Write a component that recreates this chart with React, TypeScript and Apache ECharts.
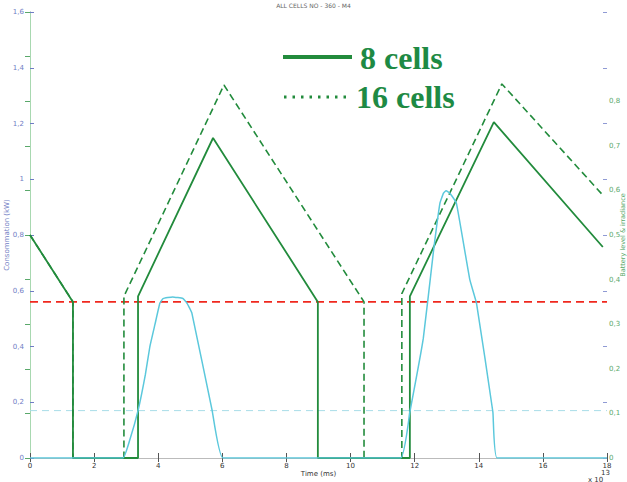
import React, { useEffect, useRef } from "react";
import * as echarts from "echarts";

const xTicks = [0, 2, 4, 6, 8, 10, 12, 14, 16, 18];

const x8 = [0, 1.34, 1.34, 3.37, 3.37, 5.71, 8.98, 8.98, 11.85, 11.85, 14.47, 17.87];
const y8 = [0.8, 0.56, 0, 0, 0.58, 1.148, 0.56, 0, 0, 0.58, 1.205, 0.757];

const x16 = [0, 1.34, 1.34, 2.93, 2.93, 6.05, 10.42, 10.42, 11.6, 11.6, 14.72, 17.87];
const y16 = [0.8, 0.56, 0, 0, 0.58, 1.338, 0.56, 0, 0, 0.59, 1.342, 0.943];

const xIr = [0, 2.9, 3.1, 3.37, 3.6, 3.74, 3.9, 4.05, 4.15, 4.45, 4.77, 4.9, 5.05, 5.68, 6.02, 11.56, 11.85, 12.27, 12.58, 12.79, 12.9, 12.98, 13.1, 13.3, 13.72, 13.93, 14.44, 14.57, 18];
const yIr = [0, 0, 0.06, 0.17, 0.3, 0.4, 0.48, 0.555, 0.572, 0.578, 0.572, 0.555, 0.52, 0.172, 0, 0, 0.165, 0.43, 0.735, 0.915, 0.95, 0.959, 0.95, 0.915, 0.64, 0.555, 0.165, 0, 0];

const thresholdRed = 0.56;
const thresholdCyan = 0.17;

const zip = (xs: number[], ys: number[]) => xs.map((x, i) => [x, ys[i]]);

const GREEN = "#228b3c";

export default function App() {
  const ref = useRef<HTMLDivElement>(null);
  useEffect(() => {
    if (!ref.current) return;
    const chart = echarts.init(ref.current, null, { renderer: "svg" });
    const fmtComma = (v: number) => (v === 0 ? "0" : String(Math.round(v * 10) / 10).replace(".", ","));
    chart.setOption({
      animation: false,
      grid: { left: 30, right: 20, top: 12, bottom: 24, containLabel: false, outerBoundsMode: "none" },
      xAxis: [
        {
          type: "value",
          min: 0,
          max: 18,
          interval: 2,
          name: "Time (ms)",
          nameLocation: "middle",
          nameGap: 12,
          nameMoveOverlap: false,
          nameTextStyle: { fontSize: 7, color: "#333", fontFamily: "DejaVu Sans" },
          axisLine: { show: true, lineStyle: { color: "#999", width: 1 } },
          axisTick: { show: true, inside: true, length: 5, lineStyle: { color: "#555" } },
          axisLabel: { fontSize: 7, color: "#333", margin: 4, fontFamily: "DejaVu Sans" },
          splitLine: { show: false },
        },
        {
          type: "value",
          position: "top",
          min: 0,
          max: 18,
          interval: 2,
          axisLine: { show: true, lineStyle: { color: "#bbb", width: 1 } },
          axisTick: { show: true, inside: true, length: 4, lineStyle: { color: "#555" } },
          axisLabel: { show: false },
          splitLine: { show: false },
        },
      ],
      yAxis: [
        {
          type: "value",
          min: 0,
          max: 1.6,
          interval: 0.2,
          name: "Consommation (kW)",
          nameLocation: "middle",
          nameGap: 20,
          nameRotate: 90,
          nameMoveOverlap: false,
          nameTextStyle: { fontSize: 7, color: "#6f7cc4", fontFamily: "DejaVu Sans" },
          axisLine: { show: true, lineStyle: { color: "#9aa4d8", width: 1 } },
          axisTick: { show: true, inside: true, length: 4, lineStyle: { color: "#6f7cc4" } },
          axisLabel: { fontSize: 7, color: "#6f7cc4", margin: 6, formatter: fmtComma, fontFamily: "DejaVu Sans" },
          splitLine: { show: false },
        },
        {
          type: "value",
          position: "right",
          min: 0,
          max: 1.0,
          interval: 0.1,
          name: "Battery level & irradiance",
          nameLocation: "middle",
          nameGap: 12,
          nameRotate: 90,
          nameMoveOverlap: false,
          nameTextStyle: { fontSize: 6.5, color: "#5aa86a", fontFamily: "DejaVu Sans" },
          axisLine: { show: true, lineStyle: { color: "#a8d8b0", width: 1 } },
          axisTick: { show: true, inside: true, length: 5, lineStyle: { color: "#5aa86a" } },
          axisLabel: {
            fontSize: 7,
            color: "#5aa86a",
            margin: 2,
            fontFamily: "DejaVu Sans",
            formatter: (v: number) => (v > 0.85 ? "" : fmtComma(v)),
          },
          splitLine: { show: false },
        },
        {
          type: "value",
          position: "right",
          min: 0,
          max: 1.6,
          interval: 0.2,
          axisLine: { show: false },
          axisTick: { show: true, inside: true, length: 4, lineStyle: { color: "#8f9ad4" } },
          axisLabel: { show: false },
          splitLine: { show: false },
        },
      ],
      series: [
        {
          type: "line",
          data: [[0, thresholdCyan], [18, thresholdCyan]],
          symbol: "none",
          lineStyle: { color: "#a8dde8", width: 1, type: [7, 5] },
        },
        {
          type: "line",
          data: [[0, thresholdRed], [18, thresholdRed]],
          symbol: "none",
          lineStyle: { color: "#f0281e", width: 1.6, type: [8, 5] },
        },
        {
          type: "line",
          data: zip(x16, y16),
          symbol: "none",
          lineStyle: { color: GREEN, width: 1.6, type: [7, 4] },
        },
        {
          type: "line",
          data: zip(x8, y8),
          symbol: "none",
          lineStyle: { color: GREEN, width: 1.8 },
        },
        {
          type: "line",
          data: zip(xIr, yIr),
          symbol: "none",
          smooth: 0.1,
          lineStyle: { color: "#5bc8dc", width: 1.5 },
        },
      ],
      graphic: [
        {
          type: "text",
          left: "center",
          top: 2,
          style: { text: "ALL CELLS NO - 360 - M4", fontSize: 6, fill: "#666", fontFamily: "DejaVu Sans" },
        },
        {
          type: "line",
          shape: { x1: 283, y1: 57, x2: 352, y2: 57 },
          style: { stroke: GREEN, lineWidth: 4 },
        },
        {
          type: "line",
          shape: { x1: 284, y1: 97, x2: 348, y2: 97 },
          style: { stroke: GREEN, lineWidth: 3, lineDash: [2.5, 6] },
        },
        {
          type: "text",
          x: 360,
          y: 58,
          style: {
            text: "8 cells",
            fontSize: 32,
            fontWeight: "bold",
            fontFamily: "Liberation Serif",
            fill: "#1e8a44",
            verticalAlign: "middle",
          },
        },
        {
          type: "text",
          x: 356,
          y: 97,
          style: {
            text: "16 cells",
            fontSize: 32,
            fontWeight: "bold",
            fontFamily: "Liberation Serif",
            fill: "#1e8a44",
            verticalAlign: "middle",
          },
        },
        {
          type: "text",
          x: 601,
          y: 469,
          style: { text: "13", fontSize: 7, fill: "#333", fontFamily: "DejaVu Sans" },
        },
        {
          type: "text",
          x: 588,
          y: 476,
          style: { text: "x 10", fontSize: 7, fill: "#333", fontFamily: "DejaVu Sans" },
        },
      ],
    });
    return () => chart.dispose();
  }, []);
  return <div ref={ref} style={{ position: "absolute", left: 0, top: 0, width: 627, height: 482 }} />;
}
